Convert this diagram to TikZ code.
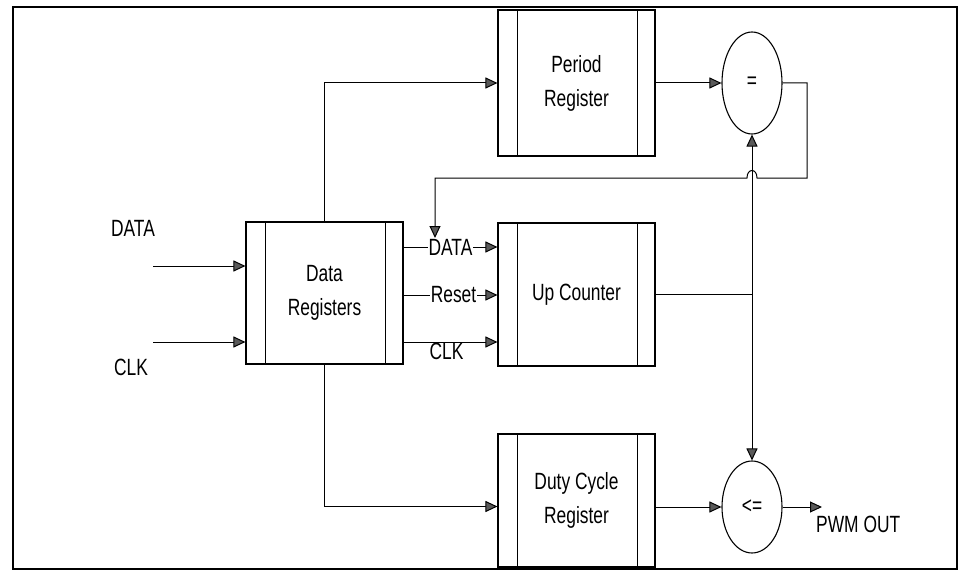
\documentclass[tikz,border=0pt]{standalone}
\usepackage{fontspec}
\setmainfont{Liberation Sans}[FakeStretch=0.74]
\usetikzlibrary{arrows.meta,shapes.geometric}
\tikzset{
  regbox/.style={draw, line width=1.1pt, minimum width=157pt, align=center,
     font=\fontsize{23.5}{34}\selectfont, inner sep=0pt},
  cmp/.style={draw, ellipse, line width=1.1pt, minimum width=60pt, inner sep=0pt,
     font=\fontsize{23.5}{26}\selectfont},
  wire/.style={line width=1pt},
  arr/.style={wire, -{Triangle[length=12pt,width=11pt,fill=black!65]}},
  lbl/.style={font=\fontsize{23.5}{26}\selectfont, inner sep=1pt},
}
\begin{document}
\begin{tikzpicture}[x=1pt,y=-1pt]
\fill[white] (0,0) rectangle (962,578);
\useasboundingbox (0,0) rectangle (962,578);
\draw[line width=2.6pt] (13,7) rectangle (957,569);

\node[regbox, minimum height=142pt] (datareg) at (324.5,293) {Data\\Registers};
\node[regbox, minimum height=146pt] (periodreg) at (576.5,83) {Period\\Register};
\node[regbox, minimum height=143pt] (upcounter) at (576.5,294.5) {Up Counter};
\node[regbox, minimum height=133pt] (dutyreg) at (576.5,500.5) {Duty Cycle\\Register};
\foreach \n in {datareg,periodreg,upcounter,dutyreg}{
  \draw[wire] ([xshift=20pt]\n.north west) -- ([xshift=20pt]\n.south west);
  \draw[wire] ([xshift=-18pt]\n.north east) -- ([xshift=-18pt]\n.south east);
}
\node[cmp, minimum height=102pt] (eq) at (752,83) {=};
\node[cmp, minimum height=92pt] (le) at (752,507) {<=};

% inputs
\node[lbl] (datain) at (133,228) {DATA};
\node[lbl] (clkin) at (131,367) {CLK};
\coordinate (din) at (153,266);
\coordinate (cin) at (153,342);
\draw[arr] (din) -- (din -| datareg.west);
\draw[arr] (cin) -- (cin -| datareg.west);

% data registers to period / duty
\draw[arr] (datareg.north) |- (periodreg.west);
\draw[arr] (datareg.south) |- ([yshift=-6pt]dutyreg.west);

% data registers to up counter
\draw[arr] ([yshift=46pt]datareg.east) -- ([yshift=46pt]datareg.east -| upcounter.west)
   node[lbl, midway, fill=white] (dlab) {DATA};
\draw[arr] ([yshift=-2pt]datareg.east) -- ([yshift=-2pt]datareg.east -| upcounter.west)
   node[lbl, midway, fill=white, xshift=3pt] (rlab) {Reset};
\draw[arr] ([yshift=-49pt]datareg.east) -- ([yshift=-49pt]datareg.east -| upcounter.west)
   node[lbl, midway, below, xshift=-4pt] (clab) {CLK};

% period register to comparator
\draw[arr] (periodreg.east) -- (eq.west);
\draw[arr] (dutyreg.east |- le.west) -- (le.west);

% feedback loop with hop
\coordinate (lp1) at (807,83);
\coordinate (lp2) at (807,178);
\coordinate (hopr) at (757,178);
\coordinate (hopl) at (747,178);
\coordinate (lp3) at (435,178);
\coordinate (lp4) at (435,238);
\draw[arr] (eq.east) -- (lp1) -- (lp2) -- (hopr)
   .. controls (757,168) and (747,168) .. (hopl) -- (lp3) -- (lp4);

% up counter output to comparators
\coordinate (junc) at (upcounter.east -| eq.south);
\draw[wire] (upcounter.east) -- (junc);
\draw[arr] (junc) -- (eq.south);
\draw[arr] (junc) -- (le.north);

% PWM out
\coordinate (pwm) at (822,507);
\draw[arr] (le.east) -- (pwm);
\node[lbl, anchor=north west] (pwmlab) at (815,515) {PWM OUT};
\end{tikzpicture}
\end{document}
